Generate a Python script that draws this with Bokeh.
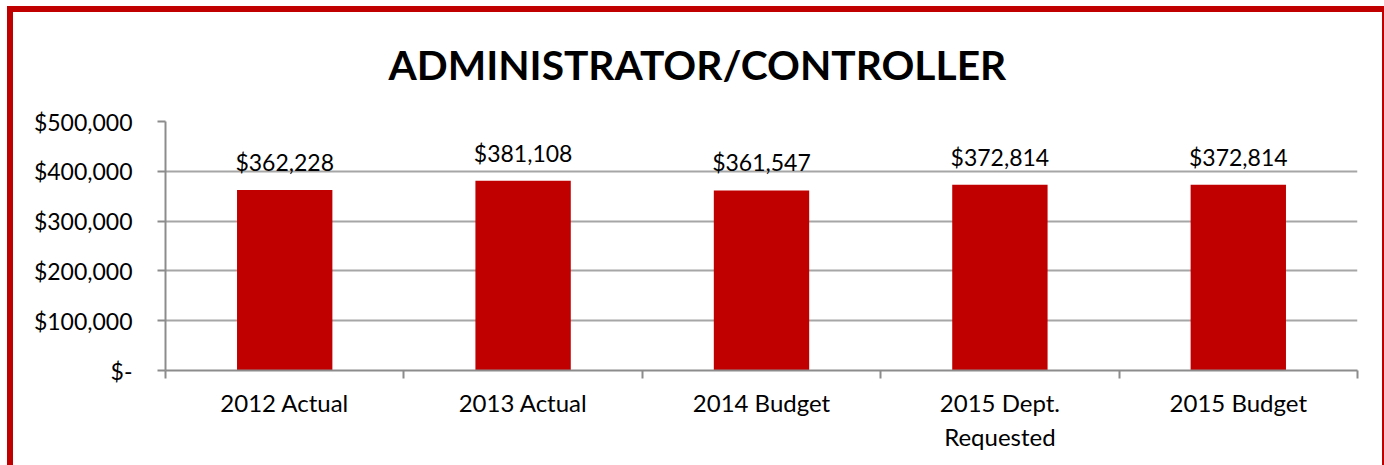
import numpy as np
from bokeh.plotting import figure
from bokeh.models import ColumnDataSource, FixedTicker, Range1d, LabelSet
from bokeh.core.properties import value
from bokeh.embed import file_html
from bokeh.resources import INLINE

title_text = "ADMINISTRATOR/CONTROLLER"
categories = ["2012 Actual", "2013 Actual", "2014 Budget", "2015 Dept.\nRequested", "2015 Budget"]
values = [362228, 381108, 361547, 372814, 372814]
y_ticks = [0, 100000, 200000, 300000, 400000, 500000]
y_tick_labels = ["$-", "$100,000", "$200,000", "$300,000", "$400,000", "$500,000"]

FONT = "Lato"
RED = "#C00000"
GRID = "#A6A6A6"
AXIS = "#8C8C8C"

n = len(categories)
xpos = np.arange(n) + 0.5
src = ColumnDataSource(dict(
    x=xpos, top=values,
    label=["${:,}".format(v) for v in values],
))

p = figure(width=1384, height=465, output_backend="svg", toolbar_location=None,
           x_range=Range1d(0, n), y_range=Range1d(y_ticks[0], y_ticks[-1]),
           min_border_left=165, min_border_right=27, min_border_top=121, min_border_bottom=95)
p.styles = {"box-shadow": "inset 7px 6px 0 0 white, inset 13px 12px 0 0 %s, inset -2px 0 0 0 %s" % (RED, RED)}
p.outline_line_color = None
p.background_fill_color = None
p.border_fill_color = None

p.title.text = title_text
p.title.align = "left"
p.title.offset = 223
p.title.standoff = 66
p.title.text_font = FONT
p.title.text_font_size = "40.7px"
p.title.text_font_style = "bold"
p.title.text_color = "black"

p.vbar(x="x", top="top", width=0.4, bottom=0, source=src, fill_color=RED, line_color=None)

labels = LabelSet(x="x", y="top", text="label", source=src, text_align="center",
                  text_baseline="bottom", y_offset=14, text_font=value(FONT),
                  text_font_size=value("23px"), text_color="black")
p.add_layout(labels)

p.xgrid.grid_line_color = None
p.ygrid.ticker = FixedTicker(ticks=y_ticks)
p.ygrid.grid_line_color = GRID
p.ygrid.grid_line_width = 2

p.yaxis.ticker = FixedTicker(ticks=y_ticks)
p.yaxis.major_label_overrides = {t: l for t, l in zip(y_ticks, y_tick_labels)}
p.yaxis.axis_line_color = AXIS
p.yaxis.axis_line_width = 2
p.yaxis.major_tick_line_color = AXIS
p.yaxis.major_tick_line_width = 2
p.yaxis.major_tick_in = 0
p.yaxis.major_tick_out = 8
p.yaxis.minor_tick_line_color = None
p.yaxis.major_label_text_font = FONT
p.yaxis.major_label_text_font_size = "23px"
p.yaxis.major_label_text_color = "black"
p.yaxis.major_label_standoff = 25

p.xaxis.ticker = FixedTicker(ticks=list(xpos), minor_ticks=list(np.arange(n + 1)))
p.xaxis.major_label_overrides = {float(x): c for x, c in zip(xpos, categories)}
p.xaxis.axis_line_color = AXIS
p.xaxis.axis_line_width = 2
p.xaxis.major_tick_line_color = None
p.xaxis.minor_tick_line_color = AXIS
p.xaxis.minor_tick_line_width = 2
p.xaxis.minor_tick_in = 0
p.xaxis.minor_tick_out = 8
p.xaxis.major_label_text_font = FONT
p.xaxis.major_label_text_font_size = "24px"
p.xaxis.major_label_text_color = "black"
p.xaxis.major_label_standoff = 9

open("out.html", "w").write(file_html(p, INLINE))
